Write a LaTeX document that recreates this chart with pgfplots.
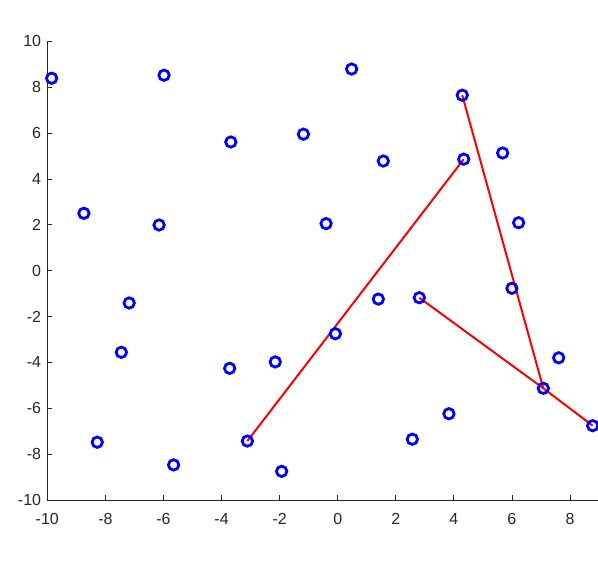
\documentclass[border=0pt]{standalone}
\usepackage{pgfplots}
\pgfplotsset{compat=1.18}
\usepackage{fontspec}
\setmainfont{Liberation Sans}
\definecolor{axgray}{RGB}{38,38,38}

\begin{document}
\begin{tikzpicture}
\begin{axis}[
    name=ax,
    scale only axis,
    width=550.6pt, height=458.7pt,
    xmin=-10, xmax=8.96,
    ymin=-10, ymax=10,
    axis lines*=left,
    axis line style={axgray, line width=0.8pt},
    tick align=inside,
    major tick length=5pt,
    tick style={axgray, line width=0.8pt},
    xtick={-10,-8,...,8},
    ytick={-10,-8,...,10},
    /pgf/number format/assume math mode=true,
    tick label style={font=\fontsize{16}{18}\selectfont, text=axgray},
    xticklabel style={yshift=-10pt},
    yticklabel style={xshift=-2.7pt},
    clip=false,
]
% points
\addplot[only marks, blue, mark=o, mark size=5.2pt,
         mark options={line width=2.8pt}] table {
x y
-9.85 8.39
-5.98 8.52
0.48 8.79
4.29 7.65
-8.74 2.50
-6.15 1.99
-3.68 5.61
-1.18 5.95
1.57 4.78
4.34 4.86
5.68 5.13
6.23 2.09
-0.40 2.05
-7.18 -1.41
-7.45 -3.56
-3.72 -4.26
-2.15 -3.98
-0.08 -2.75
1.40 -1.24
2.81 -1.18
6.00 -0.77
7.61 -3.80
7.08 -5.13
8.78 -6.76
3.83 -6.24
2.57 -7.35
-3.11 -7.43
-8.28 -7.48
-5.65 -8.47
-1.93 -8.75
};
% red segments
\addplot[red, line width=2pt] coordinates {(-3.11,-7.43) (4.34,4.86)};
\addplot[red, line width=2pt] coordinates {(4.29,7.65) (7.08,-5.13)};
\addplot[red, line width=2pt] coordinates {(2.81,-1.18) (7.08,-5.13) (8.78,-6.76)};
\end{axis}
\pgfresetboundingbox
\path ([shift={(-47.3pt,-62pt)}]ax.south west) rectangle ([shift={(0.1pt,41.3pt)}]ax.north east);
\end{tikzpicture}
\end{document}
